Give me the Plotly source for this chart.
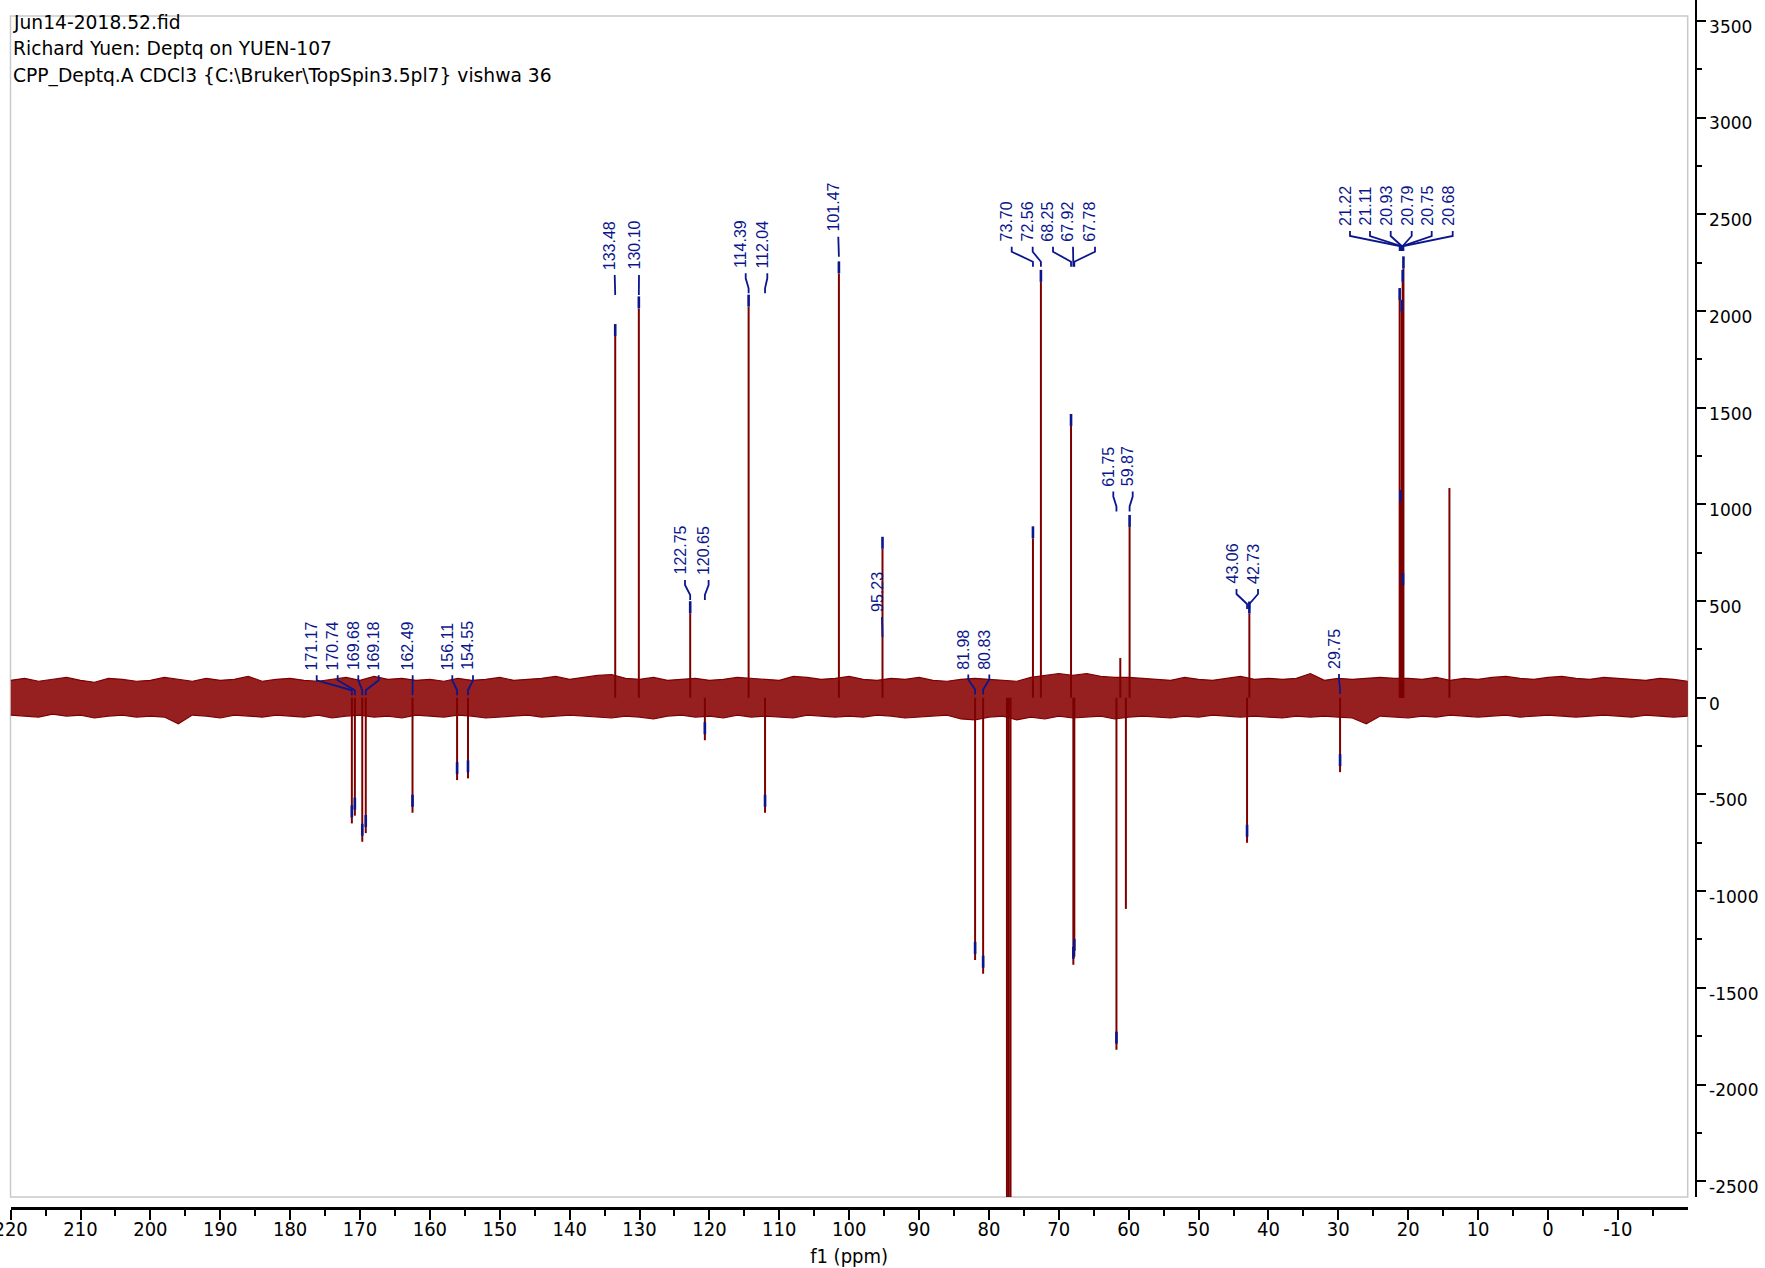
import plotly.graph_objects as go

# ------------------------------------------------------------------ data
header_lines = [
    "Jun14-2018.52.fid",
    "Richard Yuen: Deptq on YUEN-107",
    "CPP_Deptq.A CDCl3 {C:\\Bruker\\TopSpin3.5pl7} vishwa 36",
]

# picked lines (ppm) and their DEPTQ intensities
label_ppm = [171.17, 170.74, 169.68, 169.18, 162.49, 156.11, 154.55,
             133.48, 130.10, 122.75, 120.65, 114.39, 112.04, 101.47, 95.23,
             81.98, 80.83, 73.70, 72.56, 68.25, 67.92, 67.78, 61.75, 59.87,
             43.06, 42.73, 29.75,
             21.22, 21.11, 20.93, 20.79, 20.75, 20.68]
label_int = [-650, -610, -745, -700, -595, -426, -417,
             1870, 2013, 437, -220, 2022, -595, 2194, 770,
             -1356, -1427, 824, 2150, 1405, -1381, -1340, -1820, 883,
             -750, 435, -385,
             2056, 1012, 1995, 2150, 582, 2220]

# unpicked lines: CDCl3 triplet and a few small signals
other_ppm = [77.42, 77.16, 76.91, 61.20, 60.40, 14.10]
other_int = [-3600, -3900, -3600, 205, -1092, 1084]

# baseline noise envelope, sampled every 2 ppm from 220 to -20
noise_ppm = [220, 218, 216, 214, 212, 210, 208, 206, 204, 202,
             200, 198, 196, 194, 192, 190, 188, 186, 184, 182,
             180, 178, 176, 174, 172, 170, 168, 166, 164, 162,
             160, 158, 156, 154, 152, 150, 148, 146, 144, 142,
             140, 138, 136, 134, 132, 130, 128, 126, 124, 122,
             120, 118, 116, 114, 112, 110, 108, 106, 104, 102,
             100, 98, 96, 94, 92, 90, 88, 86, 84, 82,
             80, 78, 76, 74, 72, 70, 68, 66, 64, 62,
             60, 58, 56, 54, 52, 50, 48, 46, 44, 42,
             40, 38, 36, 34, 32, 30, 28, 26, 24, 22,
             20, 18, 16, 14, 12, 10, 8, 6, 4, 2,
             0, -2, -4, -6, -8, -10, -12, -14, -16, -18,
             -20]
noise_hi = [90, 100, 85, 95, 105, 90, 80, 100, 95, 85,
            90, 105, 95, 85, 100, 90, 95, 110, 85, 95,
            100, 90, 85, 95, 105, 90, 110, 95, 100, 90,
            95, 85, 100, 90, 95, 105, 90, 95, 100, 110,
            95, 105, 115, 120, 100, 95, 105, 90, 95, 100,
            90, 95, 105, 100, 95, 90, 110, 105, 95, 100,
            110, 95, 90, 100, 95, 105, 90, 85, 95, 100,
            95, 90, 85, 105, 115, 125, 115, 125, 110, 105,
            105, 100, 95, 90, 105, 95, 90, 100, 110, 95,
            100, 95, 100, 125, 90, 100, 95, 100, 105, 100,
            100, 95, 105, 90, 100, 95, 105, 110, 100, 95,
            105, 110, 100, 95, 105, 100, 95, 90, 100, 95,
            85]
noise_lo = [-90, -95, -100, -85, -95, -90, -105, -95, -90, -100,
            -95, -100, -135, -90, -95, -105, -90, -95, -100, -90,
            -95, -100, -90, -105, -95, -90, -100, -95, -105, -90,
            -95, -100, -90, -95, -105, -100, -95, -90, -100, -95,
            -90, -95, -100, -105, -95, -100, -110, -95, -90, -100,
            -95, -105, -90, -100, -95, -100, -105, -90, -95, -100,
            -95, -100, -90, -95, -105, -100, -95, -90, -110, -115,
            -100, -95, -115, -100, -110, -95, -105, -100, -95, -110,
            -100, -95, -100, -105, -95, -100, -90, -95, -100, -95,
            -100, -105, -95, -100, -95, -100, -105, -135, -95, -100,
            -105, -95, -100, -90, -95, -100, -95, -90, -100, -95,
            -90, -95, -100, -95, -90, -95, -100, -90, -95, -100,
            -95]

x_tick_vals = [220, 210, 200, 190, 180, 170, 160, 150, 140, 130, 120, 110,
               100, 90, 80, 70, 60, 50, 40, 30, 20, 10, 0, -10]
x_tick_text = ["220", "210", "200", "190", "180", "170", "160", "150", "140",
               "130", "120", "110", "100", "90", "80", "70", "60", "50", "40",
               "30", "20", "10", "0", "-10"]
y_tick_vals = [-2500, -2000, -1500, -1000, -500, 0, 500, 1000, 1500, 2000,
               2500, 3000, 3500]
y_tick_text = ["-2500", "-2000", "-1500", "-1000", "-500", "0", "500", "1000",
               "1500", "2000", "2500", "3000", "3500"]

# ------------------------------------------------------------------ layout geometry (pixels)
W, H = 1765, 1268
PL, PR = 10.5, 1687.7          # plot frame left / right
PT, PB = 16.0, 1197.0          # frame top / bottom
X_AXIS_PX = 1208.0             # x axis line
Y_AXIS_PX = 1695.7             # y axis line
X_RANGE = (220.02, -20.0)
ZERO_PX = 697.7
PX_PER_500 = 96.7
UNIT_PER_PX = 500.0 / PX_PER_500
Y_MAX = ZERO_PX * UNIT_PER_PX
Y_MIN = -(PB - ZERO_PX) * UNIT_PER_PX
PPM_PER_PX = (X_RANGE[0] - X_RANGE[1]) / (PR - PL)


def px_to_ppm(px):
    return X_RANGE[0] - (px - PL) * PPM_PER_PX


def py_to_val(py):
    return (ZERO_PX - py) * UNIT_PER_PX


# label anchor (top of leader) x position and leader top y, per picked line
label_anchor_px = [316.7, 337.7, 358.3, 378.7, 412.7, 452.3, 473.0,
                   614.7, 639.0, 685.0, 708.6, 745.7, 767.3, 838.3, 882.0,
                   968.3, 989.3, 1011.7, 1032.7, 1053.0, 1073.0, 1095.0, 1113.3, 1132.7,
                   1236.5, 1258.0, 1339.0,
                   1350.0, 1370.0, 1390.7, 1411.7, 1431.7, 1452.7]
label_top_px = [675.3] * 7 + [275.0] * 2 + [580.0] * 2 + [273.3] * 2 + [236.7] + [617.0] \
    + [674.5] * 2 + [246.7] * 5 + [491.5] * 2 + [589.0] * 2 + [674.0] + [231.0] * 6

RED = "#7d0000"
BLUE = "#0c168c"

fig = go.Figure()

# baseline noise band
band_x = noise_ppm + noise_ppm[::-1]
band_y = noise_hi + noise_lo[::-1]
fig.add_trace(go.Scatter(x=band_x, y=band_y, fill="toself", fillcolor="#962020",
                         line=dict(color=RED, width=1.2), mode="lines",
                         hoverinfo="skip", showlegend=False))

# spectrum lines
sx, sy = [], []
for p, v in zip(label_ppm + other_ppm, label_int + other_int):
    sx += [p, p, None]
    sy += [0, v, None]
fig.add_trace(go.Scatter(x=sx, y=sy, mode="lines", line=dict(color=RED, width=2),
                         hoverinfo="skip", showlegend=False))

# leader lines and peak markers
lx, ly, mx, my = [], [], [], []
for p, v, ax, top in zip(label_ppm, label_int, label_anchor_px, label_top_px):
    a_ppm = px_to_ppm(ax)
    lx += [a_ppm, a_ppm, p, p, None]
    ly += [py_to_val(top), py_to_val(top + 5), py_to_val(top + 15), py_to_val(top + 20), None]
    mx += [p, p, None]
    if v > 0:
        my += [v, v + 12 * UNIT_PER_PX, None]
    else:
        my += [v + 6 * UNIT_PER_PX, v + 18 * UNIT_PER_PX, None]
fig.add_trace(go.Scatter(x=lx, y=ly, mode="lines", line=dict(color=BLUE, width=1.8),
                         hoverinfo="skip", showlegend=False))
fig.add_trace(go.Scatter(x=mx, y=my, mode="lines", line=dict(color=BLUE, width=2.6),
                         hoverinfo="skip", showlegend=False))

# helper traces so the offset axes are drawn
fig.add_trace(go.Scatter(x=[None], y=[None], xaxis="x2", yaxis="y", showlegend=False, hoverinfo="skip"))
fig.add_trace(go.Scatter(x=[None], y=[None], xaxis="x", yaxis="y2", showlegend=False, hoverinfo="skip"))

annotations = []
for p, ax, top in zip(label_ppm, label_anchor_px, label_top_px):
    annotations.append(dict(
        x=px_to_ppm(ax - 5), y=py_to_val(top - 3), xref="x", yref="y",
        text=f"{p:.2f}", textangle=-90, showarrow=False,
        xanchor="center", yanchor="bottom",
        font=dict(family="Liberation Sans, Arial, sans-serif", size=16, color=BLUE)))

for i, line in enumerate(header_lines):
    annotations.append(dict(
        x=11 / W, y=1 - (22.0 + 27 * i) / H, xref="paper", yref="paper",
        text=line, showarrow=False, xanchor="left", yanchor="middle",
        font=dict(family="DejaVu Sans, Tahoma, sans-serif", size=18.7, color="#000000")))

narrow = "Liberation Sans Narrow, DejaVu Sans Condensed, Arial Narrow, Liberation Sans, sans-serif"

fig.update_layout(
    width=W, height=H,
    margin=dict(l=0, r=0, t=0, b=0, autoexpand=False),
    paper_bgcolor="white", plot_bgcolor="white",
    annotations=annotations,
    shapes=[dict(type="rect", xref="paper", yref="paper",
                 x0=PL / W, x1=PR / W, y0=1 - PB / H, y1=1 - PT / H,
                 line=dict(color="#c9c9c9", width=1.5), layer="below")],
    xaxis=dict(domain=[PL / W, PR / W], range=list(X_RANGE), visible=False),
    yaxis=dict(domain=[1 - PB / H, 1.0], range=[Y_MIN, Y_MAX], visible=False),
    xaxis2=dict(overlaying="x", anchor="free", position=1 - X_AXIS_PX / H, side="bottom",
                range=list(X_RANGE), showline=True, linecolor="black", linewidth=3,
                showgrid=False, zeroline=False, automargin=False,
                tickmode="array", tickvals=x_tick_vals, ticktext=x_tick_text,
                ticks="outside", ticklen=10, tickwidth=1.5, tickcolor="black",
                minor=dict(tickvals=[v - 5 for v in x_tick_vals], ticks="outside",
                           ticklen=6, tickwidth=1.5, tickcolor="black"),
                ticklabelstandoff=-8, ticklabeloverflow="allow",
                tickfont=dict(family=narrow, size=20, color="black"),
                title=dict(text="f1 (ppm)", font=dict(family=narrow, size=20, color="black"),
                           standoff=12)),
    yaxis2=dict(overlaying="y", anchor="free", position=Y_AXIS_PX / W, side="right",
                range=[Y_MIN, Y_MAX], showline=True, linecolor="black", linewidth=2,
                showgrid=False, zeroline=False, automargin=False,
                tickmode="array", tickvals=y_tick_vals, ticktext=y_tick_text,
                ticks="outside", ticklen=9, tickwidth=1.5, tickcolor="black",
                minor=dict(tickvals=[v + 250 for v in y_tick_vals], ticks="outside",
                           ticklen=5, tickwidth=1.5, tickcolor="black"),
                ticklabelshift=6,
                tickfont=dict(family="DejaVu Sans, Verdana, sans-serif", size=17, color="black")),
)

fig.write_html("out.html")
